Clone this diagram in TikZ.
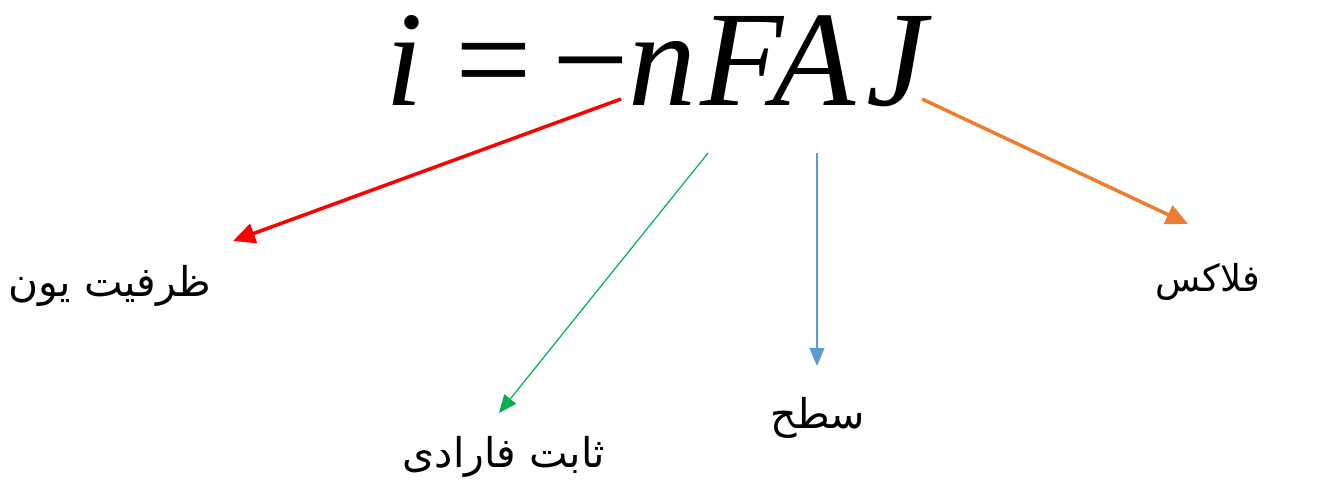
\documentclass[tikz,border=0pt]{standalone}
\usepackage{fontspec}
\setmainfont{Liberation Serif}
\newfontfamily\arabicfont[Script=Arabic]{DejaVu Sans}
\TeXXeTstate=1
\usetikzlibrary{arrows.meta}
\definecolor{cred}{HTML}{FF0000}
\definecolor{cgreen}{HTML}{00B050}
\definecolor{cblue}{HTML}{5B9BD5}
\definecolor{corange}{HTML}{ED7D31}
\tikzset{
  lbl/.style={inner sep=0pt, font=\arabicfont\fontsize{41}{44}\selectfont},
  eqit/.style={anchor=base west, inner sep=0pt, font=\itshape\fontsize{136}{140}\selectfont},
  eqrm/.style={anchor=base west, inner sep=0pt, font=\upshape\fontsize{136}{140}\selectfont},
  thickarr/.style={line width=3.5pt, -{Triangle[length=22pt,width=20pt]}},
  thinarr/.style={line width=1.2pt, -{Triangle[length=18pt,width=15pt]}},
}
\begin{document}
\begin{tikzpicture}[x=1pt,y=-1pt]
\useasboundingbox (0,0) rectangle (1334,486);
\node[eqit] (ei) at (385,106) {i};
\node[eqrm] (eeq) at (455,106) {=};
\node[eqrm] (emin) at (552,106) {−};
\node[eqit] (en) at (628,106) {n};
\node[eqit] (eF) at (700,106) {F};
\node[eqit] (eA) at (772,106) {A};
\node[eqit] (eJ) at (866,106) {J};
\node[lbl] (ion) at (110,286) {\beginR ظرفیت یون\endR};
\node[lbl] (far) at (504,457) {\beginR ثابت فارادی\endR};
\node[lbl] (area) at (818,418) {\beginR سطح\endR};
\node[lbl, font=\arabicfont\fontsize{37}{40}\selectfont] (flux) at (1208,282) {\beginR فلاکس\endR};
\coordinate (s1) at (621,99);
\coordinate (e1) at (233,241);
\coordinate (s2) at (708,153);
\coordinate (e2) at (499,413);
\coordinate (s3) at (817,153);
\coordinate (e3) at (817,366);
\coordinate (s4) at (922,99);
\coordinate (e4) at (1188,224);
\draw[thickarr, cred] (s1) -- (e1);
\draw[thinarr, cgreen] (s2) -- (e2);
\draw[thinarr, cblue] (s3) -- (e3);
\draw[thickarr, corange] (s4) -- (e4);
\end{tikzpicture}
\end{document}
